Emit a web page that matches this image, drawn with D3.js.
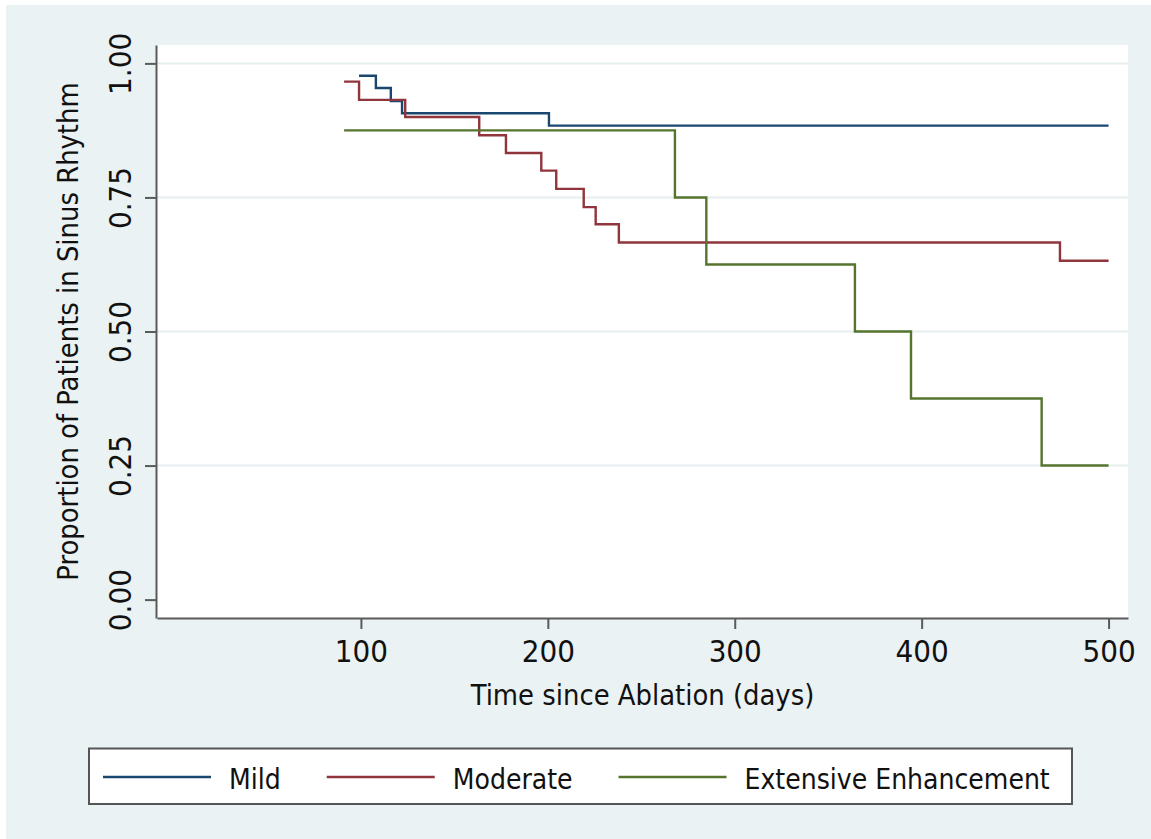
<!DOCTYPE html>
<html>
<head>
<meta charset="utf-8">
<script src="https://cdnjs.cloudflare.com/ajax/libs/d3/7.8.5/d3.min.js"></script>
<style>
  body { margin: 0; background: #fff; }
  text { font-family: "DejaVu Sans Condensed", "DejaVu Sans", sans-serif; font-stretch: condensed; fill: #111; }
  .axis path, .axis line { stroke: #5a5a5a; stroke-width: 2; }
</style>
</head>
<body>
<div class="content"></div>
<script>
// Kaplan-Meier estimates (days, proportion)
const mildTime = [99, 108, 116, 122, 200.6, 500];
const mildSurv = [0.977, 0.954, 0.930, 0.907, 0.884, 0.884];

const moderateTime = [91, 99, 123.7, 163.3, 177.6, 196.5, 204.5, 219.2, 225.6, 238, 474, 500];
const moderateSurv = [0.966, 0.932, 0.9, 0.866, 0.833, 0.8, 0.766, 0.732, 0.7, 0.666, 0.632, 0.632];

const extensiveTime = [91, 268, 284.8, 364.3, 394.3, 464.2, 500];
const extensiveSurv = [0.875, 0.75, 0.625, 0.5, 0.375, 0.25, 0.25];

const groupNames = ["Mild", "Moderate", "Extensive Enhancement"];
const groupColors = ["#1a476f", "#90353b", "#55752f"];

const xTicks = [100, 200, 300, 400, 500];
const yTicks = [0, 0.25, 0.5, 0.75, 1];
const gridTicks = [0.25, 0.5, 0.75, 1];

const series = [
  mildTime.map((t, i) => [t, mildSurv[i]]),
  moderateTime.map((t, i) => [t, moderateSurv[i]]),
  extensiveTime.map((t, i) => [t, extensiveSurv[i]]),
];

const W = 1151;
const H = 839;
const plot = { left: 157, right: 1128, top: 45, bottom: 618 };

const xScale = d3.scaleLinear().domain([-9.1, 510.4]).range([plot.left, plot.right]);
const yScale = d3.scaleLinear().domain([-0.0343, 1.0343]).range([plot.bottom, plot.top]);

const svg = d3
  .select(".content")
  .append("svg")
  .attr("width", W)
  .attr("height", H);

//--> Graph background
svg
  .append("rect")
  .attr("x", 6)
  .attr("y", 5)
  .attr("width", W - 6)
  .attr("height", H - 5)
  .attr("fill", "#eaf2f3");

//--> Plot region
svg
  .append("rect")
  .attr("x", plot.left)
  .attr("y", plot.top)
  .attr("width", plot.right - plot.left)
  .attr("height", plot.bottom - plot.top)
  .attr("fill", "#fff");

//--> Grid lines
svg
  .append("g")
  .selectAll("line")
  .data(gridTicks)
  .enter()
  .append("line")
  .attr("x1", plot.left)
  .attr("x2", plot.right)
  .attr("y1", d => yScale(d))
  .attr("y2", d => yScale(d))
  .attr("stroke", "#e6eef0")
  .attr("stroke-width", 2);

//--> Survival curves
const line = d3
  .line()
  .x(d => xScale(d[0]))
  .y(d => yScale(d[1]))
  .curve(d3.curveStepAfter);

svg
  .append("g")
  .selectAll("path")
  .data(series)
  .enter()
  .append("path")
  .attr("d", line)
  .attr("fill", "none")
  .attr("stroke", (d, i) => groupColors[i])
  .attr("stroke-width", 2.4);

//--> X axis
const xAxis = d3.axisBottom(xScale).tickValues(xTicks).tickSize(11).tickSizeOuter(0);
const gx = svg
  .append("g")
  .attr("class", "axis")
  .attr("transform", `translate(0, ${plot.bottom})`)
  .call(xAxis);
gx.selectAll("text")
  .attr("y", 44)
  .attr("dy", 0)
  .style("font-size", "31px")
  .attr("fill", "#111");
gx.attr("font-family", null).attr("font-size", null);

//--> Y axis
const yAxis = d3
  .axisLeft(yScale)
  .tickValues(yTicks)
  .tickSize(11)
  .tickSizeOuter(0)
  .tickFormat(d3.format(".2f"));
const gy = svg
  .append("g")
  .attr("class", "axis")
  .attr("transform", `translate(${plot.left - 1}, 0)`)
  .call(yAxis);
gy.selectAll("text")
  .attr("transform", "rotate(-90)")
  .attr("x", 0)
  .attr("y", -25)
  .attr("dy", 0)
  .attr("text-anchor", "middle")
  .style("font-size", "31px")
  .attr("fill", "#111");
gy.attr("font-family", null).attr("font-size", null);

//--> Axis titles
svg
  .append("text")
  .attr("x", (plot.left + plot.right) / 2)
  .attr("y", 705)
  .attr("text-anchor", "middle")
  .style("font-size", "28.8px")
  .text("Time since Ablation (days)");

svg
  .append("text")
  .attr("transform", `translate(78, ${(plot.top + plot.bottom) / 2}) rotate(-90)`)
  .attr("text-anchor", "middle")
  .style("font-size", "28.8px")
  .text("Proportion of Patients in Sinus Rhythm");

//--> Legend
const legend = svg.append("g").attr("id", "legend");

legend
  .append("rect")
  .attr("x", 89)
  .attr("y", 748.5)
  .attr("width", 983)
  .attr("height", 55.5)
  .attr("fill", "#fff")
  .attr("stroke", "#555")
  .attr("stroke-width", 2);

let keyX = 103;
groupNames.forEach((name, i) => {
  legend
    .append("line")
    .attr("x1", keyX)
    .attr("x2", keyX + 108)
    .attr("y1", 777)
    .attr("y2", 777)
    .attr("stroke", groupColors[i])
    .attr("stroke-width", 2.4);
  const label = legend
    .append("text")
    .attr("x", keyX + 126)
    .attr("y", 788.5)
    .style("font-size", "28px")
    .text(name);
  keyX += 126 + label.node().getComputedTextLength() + 46;
});
</script>
</body>
</html>
